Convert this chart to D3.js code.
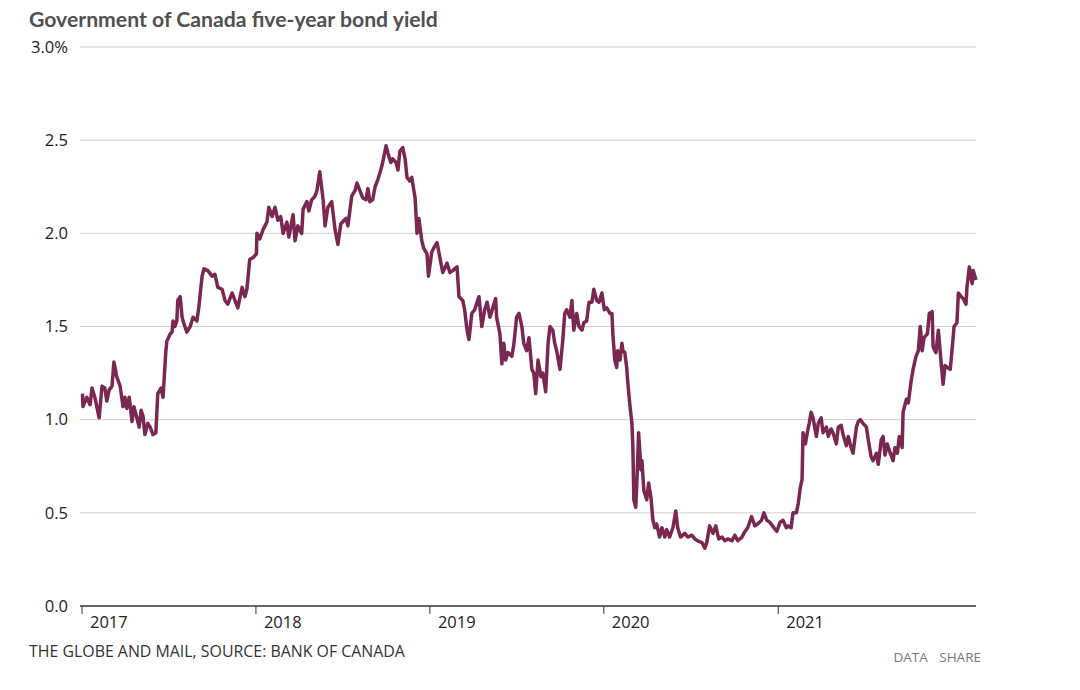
<!DOCTYPE html>
<html>
<head>
<meta charset="utf-8">
<script src="https://cdn.jsdelivr.net/npm/d3@7"></script>
<style>
  body { margin: 0; background: #fff; }
  svg { display: block; font-family: "Open Sans", "Noto Sans", sans-serif; }
</style>
</head>
<body>
<svg width="1080" height="690"></svg>
<script>
// five-year yield (date, percent)
var y2017 = [
  ["2017-01-02",1.14],["2017-01-03",1.07],["2017-01-11",1.12],["2017-01-18",1.08],["2017-01-22",1.17],
  ["2017-01-28",1.12],["2017-02-06",1.01],["2017-02-12",1.18],["2017-02-18",1.17],["2017-02-22",1.10],
  ["2017-02-27",1.16],["2017-03-05",1.18],["2017-03-09",1.31],["2017-03-15",1.23],["2017-03-22",1.18],
  ["2017-03-28",1.07],["2017-04-01",1.12],["2017-04-05",1.06],["2017-04-10",1.12],["2017-04-16",0.99],
  ["2017-04-20",1.07],["2017-04-26",1.01],["2017-05-01",0.96],["2017-05-05",1.05],["2017-05-09",1.02],
  ["2017-05-13",0.92],["2017-05-19",0.98],["2017-05-24",0.96],["2017-05-30",0.92],["2017-06-05",0.93],
  ["2017-06-09",1.14],["2017-06-16",1.17],["2017-06-20",1.12],["2017-06-26",1.37],["2017-06-28",1.42],
  ["2017-07-05",1.46],["2017-07-09",1.47],["2017-07-11",1.53],["2017-07-15",1.50],["2017-07-19",1.53],
  ["2017-07-21",1.64],["2017-07-26",1.66],["2017-07-30",1.55],["2017-08-01",1.53],["2017-08-09",1.47],
  ["2017-08-16",1.50],["2017-08-22",1.55],["2017-08-30",1.53],["2017-09-03",1.60],["2017-09-10",1.77],
  ["2017-09-14",1.81],["2017-09-22",1.80],["2017-10-01",1.77],["2017-10-07",1.78],["2017-10-13",1.71],
  ["2017-10-22",1.70],["2017-10-28",1.64],["2017-11-03",1.62],["2017-11-12",1.68],["2017-11-18",1.64],
  ["2017-11-24",1.60],["2017-12-03",1.71],["2017-12-09",1.66],["2017-12-13",1.70],["2017-12-19",1.86],
  ["2017-12-26",1.87]
];
var y2018 = [
  ["2018-01-02",1.89],["2018-01-03",2.00],["2018-01-09",1.97],["2018-01-16",2.02],["2018-01-24",2.06],
  ["2018-01-28",2.14],["2018-02-04",2.09],["2018-02-10",2.14],["2018-02-16",2.07],["2018-02-22",2.09],
  ["2018-02-27",2.00],["2018-03-07",2.06],["2018-03-11",1.98],["2018-03-20",2.10],["2018-03-24",1.96],
  ["2018-03-30",2.04],["2018-04-07",2.00],["2018-04-10",2.13],["2018-04-18",2.17],["2018-04-22",2.12],
  ["2018-04-28",2.18],["2018-05-05",2.20],["2018-05-09",2.23],["2018-05-15",2.33],["2018-05-22",2.18],
  ["2018-05-26",2.04],["2018-06-01",2.14],["2018-06-09",2.17],["2018-06-16",2.02],["2018-06-22",1.94],
  ["2018-06-28",2.05],["2018-07-05",2.07],["2018-07-09",2.08],["2018-07-13",2.04],["2018-07-21",2.20],
  ["2018-07-28",2.23],["2018-08-01",2.27],["2018-08-07",2.23],["2018-08-13",2.19],["2018-08-20",2.18],
  ["2018-08-24",2.24],["2018-08-28",2.17],["2018-09-03",2.18],["2018-09-08",2.25],["2018-09-14",2.29],
  ["2018-09-20",2.34],["2018-09-24",2.38],["2018-10-01",2.47],["2018-10-05",2.43],["2018-10-11",2.38],
  ["2018-10-15",2.40],["2018-10-22",2.38],["2018-10-26",2.34],["2018-10-30",2.44],["2018-11-05",2.46],
  ["2018-11-10",2.40],["2018-11-14",2.30],["2018-11-20",2.28],["2018-11-24",2.30],["2018-12-01",2.19],
  ["2018-12-05",2.00],["2018-12-09",2.08],["2018-12-15",1.96],["2018-12-19",1.92],["2018-12-26",1.89],
  ["2018-12-29",1.77]
];
var y2019 = [
  ["2019-01-05",1.90],["2019-01-11",1.93],["2019-01-16",1.95],["2019-01-22",1.87],["2019-01-28",1.79],
  ["2019-02-06",1.84],["2019-02-12",1.79],["2019-02-18",1.80],["2019-02-27",1.82],["2019-03-03",1.66],
  ["2019-03-11",1.64],["2019-03-15",1.59],["2019-03-20",1.48],["2019-03-24",1.43],["2019-03-30",1.57],
  ["2019-04-05",1.59],["2019-04-10",1.63],["2019-04-14",1.66],["2019-04-20",1.50],["2019-04-26",1.59],
  ["2019-05-01",1.63],["2019-05-07",1.55],["2019-05-13",1.60],["2019-05-19",1.65],["2019-05-21",1.55],
  ["2019-05-28",1.46],["2019-06-01",1.30],["2019-06-05",1.41],["2019-06-09",1.32],["2019-06-14",1.36],
  ["2019-06-22",1.34],["2019-06-26",1.40],["2019-07-02",1.55],["2019-07-07",1.57],["2019-07-13",1.50],
  ["2019-07-17",1.41],["2019-07-23",1.37],["2019-07-28",1.44],["2019-08-03",1.27],["2019-08-07",1.25],
  ["2019-08-11",1.14],["2019-08-16",1.32],["2019-08-22",1.23],["2019-08-26",1.25],["2019-09-01",1.15],
  ["2019-09-06",1.41],["2019-09-10",1.50],["2019-09-16",1.48],["2019-09-20",1.41],["2019-09-24",1.37],
  ["2019-10-01",1.27],["2019-10-07",1.43],["2019-10-11",1.57],["2019-10-15",1.59],["2019-10-22",1.55],
  ["2019-10-26",1.64],["2019-10-30",1.48],["2019-11-05",1.57],["2019-11-10",1.50],["2019-11-16",1.48],
  ["2019-11-20",1.52],["2019-11-26",1.53],["2019-12-01",1.63],["2019-12-07",1.63],["2019-12-11",1.70],
  ["2019-12-17",1.64],["2019-12-22",1.63],["2019-12-28",1.68]
];
var y2020 = [
  ["2020-01-02",1.59],["2020-01-07",1.60],["2020-01-14",1.57],["2020-01-18",1.57],["2020-01-20",1.46],
  ["2020-01-24",1.32],["2020-01-28",1.28],["2020-01-30",1.37],["2020-02-04",1.32],["2020-02-08",1.41],
  ["2020-02-10",1.37],["2020-02-14",1.36],["2020-02-18",1.28],["2020-02-20",1.21],["2020-02-25",1.07],
  ["2020-02-29",0.98],["2020-03-02",0.85],["2020-03-04",0.57],["2020-03-08",0.53],["2020-03-10",0.64],
  ["2020-03-14",0.93],["2020-03-19",0.73],["2020-03-21",0.78],["2020-03-25",0.62],["2020-03-31",0.57],
  ["2020-04-04",0.66],["2020-04-09",0.58],["2020-04-13",0.46],["2020-04-17",0.42],["2020-04-21",0.44],
  ["2020-04-27",0.37],["2020-05-02",0.42],["2020-05-08",0.37],["2020-05-12",0.41],["2020-05-18",0.37],
  ["2020-05-25",0.42],["2020-05-31",0.51],["2020-06-04",0.42],["2020-06-10",0.37],["2020-06-19",0.39],
  ["2020-06-25",0.37],["2020-07-04",0.38],["2020-07-10",0.36],["2020-07-16",0.35],["2020-07-25",0.34],
  ["2020-07-31",0.31],["2020-08-04",0.34],["2020-08-10",0.43],["2020-08-17",0.39],["2020-08-23",0.43],
  ["2020-08-29",0.36],["2020-09-05",0.37],["2020-09-11",0.35],["2020-09-17",0.36],["2020-09-26",0.35],
  ["2020-10-02",0.38],["2020-10-08",0.35],["2020-10-17",0.37],["2020-10-23",0.40],["2020-10-29",0.42],
  ["2020-11-06",0.48],["2020-11-13",0.43],["2020-11-19",0.44],["2020-11-27",0.46],["2020-12-02",0.50],
  ["2020-12-08",0.46],["2020-12-14",0.45],["2020-12-20",0.43],["2020-12-29",0.40]
];
var y2021 = [
  ["2021-01-05",0.45],["2021-01-11",0.46],["2021-01-18",0.42],["2021-01-22",0.43],["2021-01-28",0.42],
  ["2021-02-01",0.50],["2021-02-08",0.50],["2021-02-12",0.55],["2021-02-16",0.63],["2021-02-20",0.68],
  ["2021-02-22",0.93],["2021-02-27",0.87],["2021-03-03",0.93],["2021-03-07",0.98],["2021-03-11",1.04],
  ["2021-03-15",1.01],["2021-03-22",0.91],["2021-03-26",0.98],["2021-04-01",1.01],["2021-04-05",0.93],
  ["2021-04-12",0.96],["2021-04-16",0.91],["2021-04-22",0.95],["2021-04-26",0.93],["2021-05-03",0.87],
  ["2021-05-07",0.96],["2021-05-13",0.97],["2021-05-17",0.92],["2021-05-24",0.86],["2021-05-28",0.91],
  ["2021-06-03",0.85],["2021-06-07",0.82],["2021-06-14",0.96],["2021-06-18",0.99],["2021-06-22",1.00],
  ["2021-06-28",0.98],["2021-07-05",0.96],["2021-07-09",0.89],["2021-07-15",0.80],["2021-07-19",0.78],
  ["2021-07-26",0.82],["2021-07-30",0.76],["2021-08-05",0.89],["2021-08-09",0.91],["2021-08-13",0.81],
  ["2021-08-18",0.87],["2021-08-24",0.82],["2021-08-30",0.78],["2021-09-03",0.85],["2021-09-08",0.82],
  ["2021-09-12",0.91],["2021-09-18",0.85],["2021-09-20",1.04],["2021-09-27",1.11],["2021-10-01",1.09],
  ["2021-10-07",1.21],["2021-10-11",1.27],["2021-10-17",1.34],["2021-10-22",1.37],["2021-10-26",1.50],
  ["2021-10-30",1.37],["2021-11-03",1.44],["2021-11-10",1.46],["2021-11-14",1.57],["2021-11-20",1.58],
  ["2021-11-22",1.39],["2021-11-28",1.36],["2021-12-03",1.48],["2021-12-09",1.30],["2021-12-13",1.19],
  ["2021-12-17",1.29],["2021-12-22",1.28],["2021-12-28",1.27]
];
var y2022 = [
  ["2022-01-03",1.44],["2022-01-05",1.50],["2022-01-11",1.52],["2022-01-14",1.68],["2022-01-20",1.66],
  ["2022-01-24",1.65],["2022-01-30",1.62],["2022-02-01",1.71],["2022-02-06",1.82],["2022-02-12",1.73],
  ["2022-02-14",1.80],["2022-02-20",1.75]
];

var yTicks = [0, 0.5, 1.0, 1.5, 2.0, 2.5, 3.0];
var yearTicks = ["2017", "2018", "2019", "2020", "2021"];
var dateRange = ["2017-01-01", "2022-02-20"];

var title = "Government of Canada five-year bond yield";
var source = "THE GLOBE AND MAIL, SOURCE: BANK OF CANADA";

var parse = d3.timeParse("%Y-%m-%d");
var data = [].concat(y2017, y2018, y2019, y2020, y2021, y2022)
  .map(d => ({ date: parse(d[0]), value: d[1] }));

var svg = d3.select("svg");
var plotLeft = 82, plotRight = 976, plotTop = 47, plotBottom = 606;

var x = d3.scaleTime()
  .domain(dateRange.map(parse))
  .range([plotLeft, plotRight]);

var y = d3.scaleLinear()
  .domain([0, 3])
  .range([plotBottom, plotTop]);

// title
svg.append("text")
  .attr("x", 29).attr("y", 27)
  .style("font-family", "Lato, sans-serif")
  .style("font-weight", 700)
  .style("font-size", "21.2px")
  .style("fill", "#505050")
  .text(title);

// gridlines + y labels
var yAxis = svg.append("g");
yAxis.selectAll("line.grid")
  .data(yTicks.filter(d => d > 0))
  .enter().append("line")
  .attr("class", "grid")
  .attr("x1", 80).attr("x2", plotRight)
  .attr("y1", d => y(d)).attr("y2", d => y(d))
  .style("stroke", "#cfcfcf")
  .style("stroke-width", 1);

yAxis.selectAll("text")
  .data(yTicks)
  .enter().append("text")
  .attr("x", 68)
  .attr("y", d => y(d))
  .attr("dy", "0.35em")
  .attr("text-anchor", "end")
  .style("font-size", "16.6px")
  .style("fill", "#222")
  .text(d => d === 3 ? "3.0%" : d3.format(".1f")(d));

// x axis
var xAxis = svg.append("g");
xAxis.append("line")
  .attr("x1", 80).attr("x2", plotRight)
  .attr("y1", plotBottom).attr("y2", plotBottom)
  .style("stroke", "#333")
  .style("stroke-width", 1.5);

var yearDates = yearTicks.map(t => parse(t + "-01-01"));
xAxis.selectAll("line.tick")
  .data(yearDates)
  .enter().append("line")
  .attr("class", "tick")
  .attr("x1", d => x(d)).attr("x2", d => x(d))
  .attr("y1", plotBottom).attr("y2", plotBottom + 8)
  .style("stroke", "#333")
  .style("stroke-width", 1);

xAxis.selectAll("text")
  .data(yearDates)
  .enter().append("text")
  .attr("x", d => x(d) + 8)
  .attr("y", plotBottom + 16)
  .attr("dy", "0.35em")
  .style("font-size", "16.5px")
  .style("fill", "#222")
  .text(d => d3.timeFormat("%Y")(d));

// the line
var line = d3.line()
  .x(d => x(d.date))
  .y(d => y(d.value));

svg.append("path")
  .datum(data)
  .attr("d", line)
  .style("fill", "none")
  .style("stroke", "#7a2752")
  .style("stroke-width", 3.5)
  .style("stroke-linejoin", "round");

// footer
svg.append("text")
  .attr("x", 29).attr("y", 651)
  .attr("dy", "0.35em")
  .style("font-size", "15.9px")
  .style("fill", "#333")
  .text(source);

svg.append("text")
  .attr("x", 981).attr("y", 657)
  .attr("dy", "0.35em")
  .attr("text-anchor", "end")
  .style("font-size", "13.5px")
  .style("fill", "#777")
  .style("word-spacing", "8px")
  .text("DATA SHARE");
</script>
</body>
</html>
